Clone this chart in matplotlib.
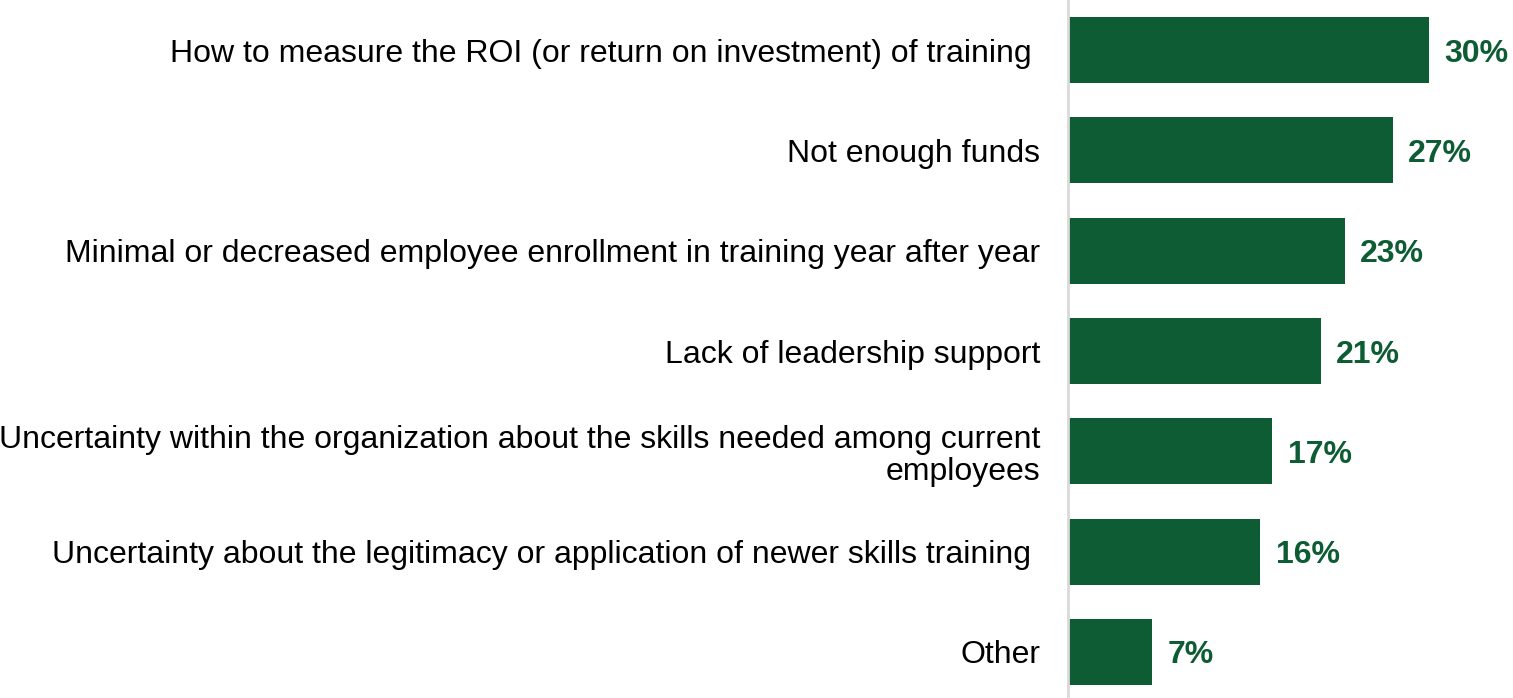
import matplotlib
matplotlib.use("Agg")
import matplotlib.pyplot as plt

categories = [
    "How to measure the ROI (or return on investment) of training ",
    "Not enough funds",
    "Minimal or decreased employee enrollment in training year after year",
    "Lack of leadership support",
    "Uncertainty within the organization about the skills needed among current\nemployees",
    "Uncertainty about the legitimacy or application of newer skills training ",
    "Other",
]
values = [30, 27, 23, 21, 17, 16, 7]
value_labels = ["30%", "27%", "23%", "21%", "17%", "16%", "7%"]

plt.rcParams['font.family'] = ['Liberation Sans', 'DejaVu Sans']
green = "#0D5C33"

fig = plt.figure(figsize=(15.13, 6.98), dpi=100)
W, H = 1513, 698
ax = fig.add_axes([1068 / W, 0, 445 / W, 1])
ypos = list(range(len(values)))
ax.barh(ypos, values, height=0.657, color=green)
ax.set_xlim(0, 37)
ax.set_ylim(6.46, -0.5)

for y, v, lab in zip(ypos, values, value_labels):
    ax.text(v + 1.3, y, lab, va="center_baseline", ha="left", fontsize=23,
            fontweight="bold", color=green)

ax.set_yticks(ypos)
ax.set_yticklabels(categories, fontsize=23, color="#000000", linespacing=1.1)
ax.tick_params(axis="y", length=0, pad=20)
ax.set_xticks([])
for s in ["top", "right", "bottom"]:
    ax.spines[s].set_visible(False)
ax.spines["left"].set_color("#D9D9D9")
ax.spines["left"].set_linewidth(2)

fig.savefig("out.png", dpi=100)
